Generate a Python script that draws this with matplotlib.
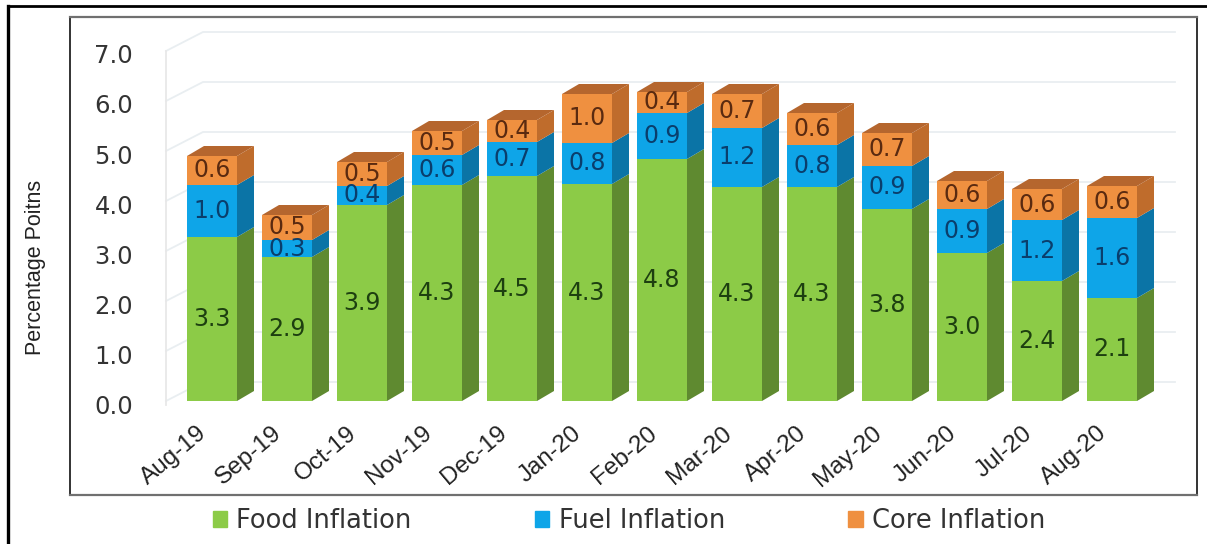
import matplotlib
matplotlib.use("Agg")
import matplotlib.pyplot as plt
from matplotlib.patches import Patch
from matplotlib.lines import Line2D
from matplotlib.transforms import ScaledTranslation

months = ["Aug-19","Sep-19","Oct-19","Nov-19","Dec-19","Jan-20","Feb-20","Mar-20","Apr-20","May-20","Jun-20","Jul-20","Aug-20"]
food = [3.28,2.88,3.92,4.32,4.50,4.34,4.84,4.28,4.28,3.84,2.96,2.40,2.06]
fuel = [1.04,0.34,0.38,0.60,0.68,0.82,0.92,1.18,0.84,0.86,0.88,1.22,1.60]
core = [0.58,0.50,0.48,0.48,0.44,0.98,0.42,0.68,0.64,0.66,0.56,0.62,0.64]
series = [("Food Inflation", food, "#8CCB47", "#5F8A30", "#1D3F10"),
          ("Fuel Inflation", fuel, "#0EA5E8", "#0B74A6", "#0A3E6C"),
          ("Core Inflation", core, "#EF9040", "#BF6C2C", "#5A2A10")]
yticks = [0, 1, 2, 3, 4, 5, 6, 7]

W, H = 1207, 544
fig = plt.figure(figsize=(W/100, H/100), dpi=100, facecolor="white")
L, T, R, B = 70, 17, 1197, 495
ax = fig.add_axes([L/W, 1-B/H, (R-L)/W, (B-T)/H])
ppx, ppy = 75.0, 50.0
x0, y0 = 212, 401
ax.set_xlim((L-x0)/ppx, (R-x0)/ppx)
ax.set_ylim((y0-B)/ppy, (y0-T)/ppy)

width = 50/ppx
dx, dy = 17/ppx, 10/ppy
wx0, wx1, wdy, wx2 = (166-x0)/ppx, (203-x0)/ppx, 19/ppy, (1175-x0)/ppx
grid = "#E9EEF1"
for k in yticks:
    ax.plot([wx0, wx1, wx2], [k, k+wdy, k+wdy], color=grid, lw=1.3, zorder=1)
ax.plot([wx0, wx0], [-0.08, 7], color="#E8E8E8", lw=1.3, zorder=1)

bottoms = [0.0]*len(months)
for name, vals, front, side, tc in series:
    for i, v in enumerate(vals):
        b = bottoms[i]
        xr = i + width/2
        ax.fill([xr, xr+dx, xr+dx, xr], [b, b+dy, b+v+dy, b+v], color=side, lw=0, zorder=3)
    ax.bar(range(len(months)), vals, width, bottom=bottoms, color=front, lw=0, zorder=4)
    for i, v in enumerate(vals):
        ax.text(i, bottoms[i]+v/2, f"{v:.1f}", ha="center", va="center", color=tc,
                fontsize=17, family="DejaVu Sans", zorder=6)
    bottoms = [b+v for b, v in zip(bottoms, vals)]

for i, top in enumerate(bottoms):
    xl, xr = i-width/2, i+width/2
    ax.fill([xl, xr, xr+dx, xl+dx], [top, top, top+dy, top+dy], color="#B5662E", lw=0, zorder=5)

ax.set_yticks(yticks)
ax.set_yticklabels([f"{k:.1f}" for k in yticks], fontsize=17.5, family="DejaVu Sans", color="#333333")
ax.tick_params(axis="y", length=0, pad=-45.4)
off = ScaledTranslation(0, -3/100, fig.dpi_scale_trans)
for t in ax.get_yticklabels():
    t.set_transform(t.get_transform()+off)

ax.set_xticks(range(len(months)))
ax.set_xticklabels(months, rotation=40, ha="right", va="top", rotation_mode="anchor",
                   fontsize=17.5, family="Liberation Sans", color="#222222")
ax.tick_params(axis="x", length=0, pad=-52.5)
offx = ScaledTranslation(-15/100, 0, fig.dpi_scale_trans)
for t in ax.get_xticklabels():
    t.set_transform(t.get_transform()+offx)

for s in ("top", "bottom"):
    ax.spines[s].set_color("#707070")
    ax.spines[s].set_linewidth(1.6)
ax.spines["right"].set_color("#333333")
ax.spines["right"].set_linewidth(1.4)
ax.spines["left"].set_color("#333333")
ax.spines["left"].set_linewidth(1.4)

fig.text(36/W, 1-267/H, "Percentage Poitns", rotation=90, ha="center", va="center",
         fontsize=15.5, family="Liberation Sans", color="#222222")

handles = [Patch(color=s[2], label=s[0]) for s in series]
fig.legend(handles=handles, ncol=3, loc="center", bbox_to_anchor=(629/W, 1-521/H), frameon=False,
           prop={"family": "DejaVu Sans", "size": 18.5}, labelcolor="#333333",
           handlelength=0.56, handleheight=0.56, handletextpad=0.36, columnspacing=4.8,
           borderpad=0, borderaxespad=0)

fig.add_artist(Line2D([8/W, 8/W], [0, 1-6/H], color="black", lw=2.4))
fig.add_artist(Line2D([8/W, 1], [1-6/H, 1-6/H], color="black", lw=2.0))

fig.savefig("out.png", dpi=100)
